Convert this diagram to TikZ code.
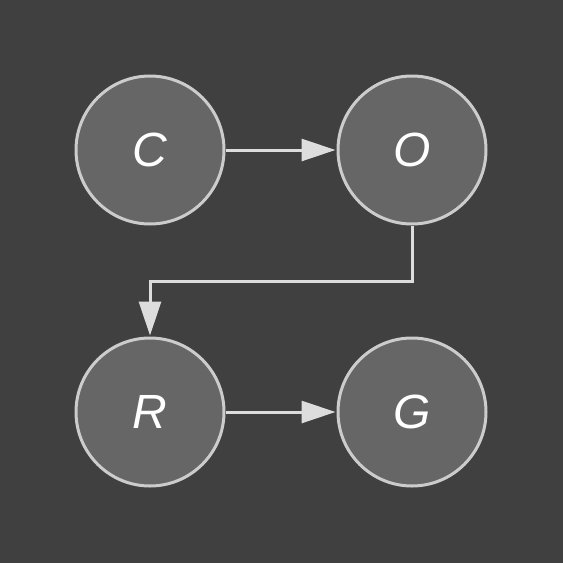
\documentclass[tikz,border=0pt]{standalone}
\usepackage{fontspec}
\setmainfont{Liberation Sans}
\usetikzlibrary{arrows.meta}
\definecolor{bg}{HTML}{404040}
\definecolor{nodefill}{HTML}{666666}
\definecolor{nodeedge}{HTML}{CCCCCC}
\definecolor{edgecol}{HTML}{DDDDDD}
\tikzset{
  varnode/.style={circle, draw=nodeedge, fill=nodefill, line width=3pt, minimum size=148pt, inner sep=0pt, text=white, font=\fontsize{48}{48}\selectfont\itshape},
  link/.style={draw=edgecol, line width=3pt, -{Triangle[length=34pt,width=22pt]}, shorten >=1pt}
}
\begin{document}
\begin{tikzpicture}[x=1pt,y=-1pt]
\fill[bg] (0,0) rectangle (563,563);
\useasboundingbox (0,0) rectangle (563,563);
\node[varnode] (C) at (150,150) {C};
\node[varnode] (O) at (412,150) {O};
\node[varnode] (R) at (150,412) {R};
\node[varnode] (G) at (412,412) {G};
\coordinate (b1) at (412,281);
\coordinate (b2) at (150,281);
\draw[link] (C) -- (O);
\draw[link] (O.south) -- (b1) -- (b2) -- (R.north);
\draw[link] (R) -- (G);
\end{tikzpicture}
\end{document}
